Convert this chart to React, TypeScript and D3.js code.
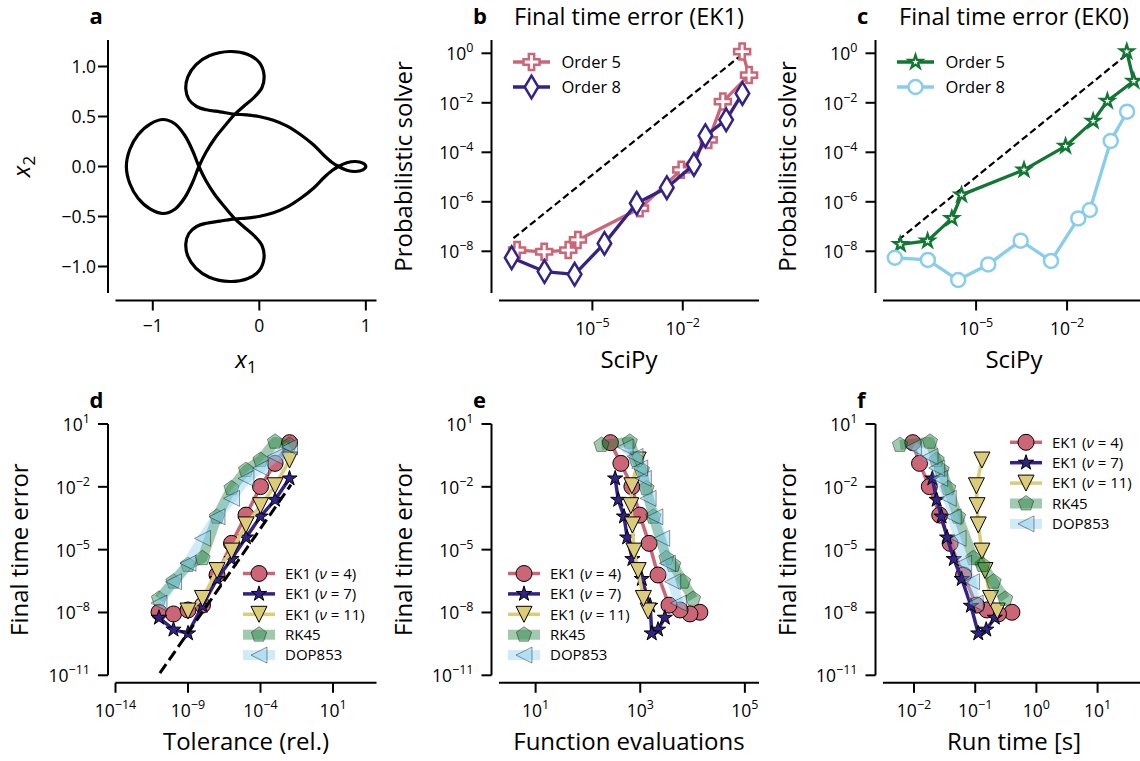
import React, { useEffect, useRef } from "react";
import * as d3 from "d3";

const FONT = "'Open Sans', 'Noto Sans', 'DejaVu Sans', sans-serif";

const ROSE = "#CC6677";
const INDIGO = "#332288";
const SAND = "#DDCC77";
const GREEN = "#117733";
const CYAN = "#88CCEE";

// ---------- Panel a: trajectory (x1, x2) ----------
const orbit: [number, number][] = [
  [-0.229, 0.523], [-0.370, 0.547], [-0.495, 0.567], [-0.589, 0.600], [-0.661, 0.670],
  [-0.690, 0.773], [-0.671, 0.897], [-0.596, 1.017], [-0.470, 1.107], [-0.276, 1.150],
  [-0.113, 1.123], [0.000, 1.040], [0.044, 0.917], [0.025, 0.790], [-0.050, 0.690],
  [-0.141, 0.607], [-0.229, 0.523], [-0.323, 0.407], [-0.417, 0.283], [-0.502, 0.140],
  [-0.567, 0.000], [-0.627, -0.160], [-0.699, -0.310], [-0.793, -0.427], [-0.903, -0.470],
  [-1.022, -0.427], [-1.138, -0.317], [-1.216, -0.170], [-1.248, 0.000], [-1.216, 0.170],
  [-1.138, 0.317], [-1.022, 0.427], [-0.903, 0.470], [-0.793, 0.427], [-0.699, 0.310],
  [-0.627, 0.160], [-0.567, 0.000], [-0.502, -0.140], [-0.417, -0.283], [-0.323, -0.407],
  [-0.229, -0.523], [-0.141, -0.607], [-0.050, -0.690], [0.025, -0.790], [0.044, -0.917],
  [0.000, -1.040], [-0.113, -1.123], [-0.276, -1.150], [-0.470, -1.107], [-0.596, -1.017],
  [-0.671, -0.897], [-0.690, -0.773], [-0.661, -0.670], [-0.589, -0.600], [-0.495, -0.567],
  [-0.370, -0.547], [-0.229, -0.523], [-0.119, -0.517], [0.006, -0.497], [0.132, -0.463],
  [0.257, -0.407], [0.382, -0.323], [0.508, -0.217], [0.608, -0.110], [0.680, -0.043],
  [0.743, 0.000], [0.821, 0.037], [0.900, 0.050], [0.972, 0.033], [1.000, 0.000],
  [0.972, -0.033], [0.900, -0.050], [0.821, -0.037], [0.743, 0.000], [0.680, 0.043],
  [0.608, 0.110], [0.508, 0.217], [0.382, 0.323], [0.257, 0.407], [0.132, 0.463],
  [0.006, 0.497], [-0.119, 0.517],
];
const aXTicks = [-1, 0, 1];
const aYTicks = [1.0, 0.5, 0.0, -0.5, -1.0];

// ---------- Panels b, c (all values are log10) ----------
const scipyOrder5 = [-7.5, -6.6, -5.8, -5.48, -3.42, -2.05, -1.14, -0.67, 0.2, -0.03];
const scipyOrder8 = [-7.68, -6.59, -5.59, -4.6, -3.53, -2.53, -1.63, -1.25, -0.56, -0.02];
const ek1Order5 = [-7.95, -8.02, -7.95, -7.54, -6.26, -4.71, -3.5, -1.95, -0.88, 0.07];
const ek1Order8 = [-8.26, -8.82, -8.93, -7.68, -6.06, -5.43, -4.49, -3.33, -2.69, -1.62];
const ek0Order5 = [-7.72, -7.58, -6.67, -5.72, -4.71, -3.75, -2.74, -1.93, -1.12, 0.07];
const ek0Order8 = [-8.26, -8.35, -9.16, -8.53, -7.57, -8.39, -6.67, -6.33, -3.54, -2.36];
const refEK1X = [-7.62, -0.03];
const refEK1Y = [-7.47, -0.05];
const refEK0X = [-7.56, -0.03];
const refEK0Y = [-7.54, -0.05];
const topYTicks = [0, -2, -4, -6, -8];
const topXTicks = [-5, -2];

// ---------- Panels d, e, f (all values are log10) ----------
const tolExp = [-11, -10, -9, -8, -7, -6, -5, -4, -3, -2];
const tolExpNu11 = [-9, -8, -7, -6, -5, -4, -3, -2];
const errNu4 = [-7.99, -8.07, -7.88, -7.65, -6.21, -4.7, -3.35, -1.99, -0.88, 0.11];
const nfevNu4 = [4.14, 3.95, 3.76, 3.55, 3.34, 3.17, 2.99, 2.84, 2.63, 2.43];
const timeNu4 = [-0.4, -0.62, -0.81, -0.98, -1.19, -1.41, -1.58, -1.75, -1.91, -2.02];
const errNu7 = [-8.25, -8.82, -9.0, -7.68, -6.4, -5.45, -4.42, -3.42, -2.62, -1.6];
const nfevNu7 = [3.47, 3.34, 3.22, 3.19, 3.03, 2.85, 2.75, 2.69, 2.58, 2.52];
const timeNu7 = [-0.68, -0.82, -0.95, -1.07, -1.22, -1.35, -1.46, -1.55, -1.63, -1.7];
const errNu11 = [-7.93, -7.33, -6.0, -5.07, -3.82, -2.9, -1.95, -0.72];
const nfevNu11 = [3.15, 3.06, 2.96, 2.88, 2.85, 2.82, 2.84, 2.96];
const timeNu11 = [-0.64, -0.75, -0.84, -0.89, -0.95, -0.97, -0.98, -0.89];
const errRK45 = [-7.35, -6.53, -5.73, -5.41, -3.43, -2.07, -1.2, -0.72, 0.15, 0.0];
const nfevRK45 = [4.01, 3.82, 3.63, 3.5, 3.25, 3.12, 3.03, 2.93, 2.8, 2.26];
const timeRK45 = [-0.51, -0.7, -0.88, -1.03, -1.28, -1.44, -1.55, -1.63, -1.74, -2.23];
const errDOP853 = [-7.55, -6.53, -5.65, -4.46, -3.43, -2.55, -1.6, -1.1, -0.55, -0.1];
const nfevDOP853 = [3.73, 3.62, 3.52, 3.41, 3.28, 3.15, 3.06, 2.99, 2.9, 2.71];
const timeDOP853 = [-1.0, -1.06, -1.19, -1.28, -1.36, -1.44, -1.58, -1.63, -1.74, -2.01];
const refTolX = [-10.94, -1.9];
const refTolY = [-10.9, -1.9];
const bottomYTicks = [1, -2, -5, -8, -11];
const dXTicks = [-14, -9, -4, 1];
const eXTicks = [1, 3, 5];
const fXTicks = [-2, -1, 0, 1];

// ---------- layout ----------
const COLS: [number, number][] = [[115.5, 376.5], [499, 759], [883, 1145]];
const ROWS: [number, number][] = [[40, 293], [424, 675.3]];
const OFF = 7.5;
const TICK = 10;

type Sel = d3.Selection<any, any, any, any>;

function markerPath(type: string, s: number): string {
  const h = s / 2;
  switch (type) {
    case "circle":
      return d3.symbol(d3.symbolCircle, Math.PI * h * h)() as string;
    case "star":
      return d3.symbol(d3.symbolStar, (h * h) / 0.8908130915292852)() as string;
    case "triDown":
      return `M${-h},${-h}L${h},${-h}L0,${h}Z`;
    case "triLeft":
      return `M${-h},0L${h},${-h}L${h},${h}Z`;
    case "pentagon": {
      const pts = d3.range(5).map((k) => {
        const a = -Math.PI / 2 + (k * 2 * Math.PI) / 5;
        return [h * Math.cos(a), h * Math.sin(a)];
      });
      return "M" + pts.map((p) => p.join(",")).join("L") + "Z";
    }
    case "plus": {
      const a = h / 3;
      const v = [
        [-a, -h], [a, -h], [a, -a], [h, -a], [h, a], [a, a],
        [a, h], [-a, h], [-a, a], [-h, a], [-h, -a], [-a, -a],
      ];
      return "M" + v.map((p) => p.join(",")).join("L") + "Z";
    }
    case "thinDiamond": {
      const H = h * 1.414;
      const W = H * 0.6;
      return `M0,${-H}L${W},0L0,${H}L${-W},0Z`;
    }
  }
  return "";
}

interface Style {
  color: string;
  lw: number;
  lineOpacity: number;
  marker: string;
  msize: number;
  mfill: string;
  mfillOpacity: number;
  mstroke: string;
  mstrokeOpacity: number;
  mstrokeWidth: number;
}

function drawSeries(g: Sel, pts: [number, number][], st: Style) {
  g.append("path")
    .attr("d", d3.line()(pts) as string)
    .attr("fill", "none")
    .attr("stroke", st.color)
    .attr("stroke-width", st.lw)
    .attr("stroke-opacity", st.lineOpacity)
    .attr("stroke-linejoin", "round")
    .attr("stroke-linecap", "butt");
  const mp = markerPath(st.marker, st.msize);
  g.selectAll(null)
    .data(pts)
    .join("path")
    .attr("transform", (d: [number, number]) => `translate(${d[0]},${d[1]})`)
    .attr("d", mp)
    .attr("fill", st.mfill)
    .attr("fill-opacity", st.mfillOpacity)
    .attr("stroke", st.mstroke)
    .attr("stroke-opacity", st.mstrokeOpacity)
    .attr("stroke-width", st.mstrokeWidth)
    .attr("stroke-linejoin", "miter");
}

function legendEntry(g: Sel, x0: number, x1: number, y: number, st: Style) {
  g.append("line")
    .attr("x1", x0).attr("x2", x1).attr("y1", y).attr("y2", y)
    .attr("stroke", st.color)
    .attr("stroke-width", st.lw)
    .attr("stroke-opacity", st.lineOpacity);
  g.append("path")
    .attr("transform", `translate(${(x0 + x1) / 2},${y})`)
    .attr("d", markerPath(st.marker, st.msize))
    .attr("fill", st.mfill)
    .attr("fill-opacity", st.mfillOpacity)
    .attr("stroke", st.mstroke)
    .attr("stroke-opacity", st.mstrokeOpacity)
    .attr("stroke-width", st.mstrokeWidth);
}

function sciText(t: Sel, e: number) {
  t.append("tspan").text("10");
  t.append("tspan")
    .attr("dy", -8)
    .attr("font-size", 12.5)
    .text(e < 0 ? "\u2212" + Math.abs(e) : String(e));
}

function frame(g: Sel, col: number, row: number) {
  const [x0, x1] = COLS[col];
  const [y0, y1] = ROWS[row];
  g.append("line")
    .attr("x1", x0 - OFF).attr("x2", x0 - OFF).attr("y1", y0).attr("y2", y1)
    .attr("stroke", "#000").attr("stroke-width", 2);
  g.append("line")
    .attr("x1", x0).attr("x2", x1).attr("y1", y1 + OFF).attr("y2", y1 + OFF)
    .attr("stroke", "#000").attr("stroke-width", 2);
}

function xTicks(g: Sel, col: number, row: number, xs: number[], scale: (v: number) => number, sci: boolean) {
  const y1 = ROWS[row][1] + OFF;
  xs.forEach((v) => {
    const x = scale(sci ? Math.pow(10, v) : v);
    g.append("line").attr("x1", x).attr("x2", x).attr("y1", y1).attr("y2", y1 + TICK)
      .attr("stroke", "#000").attr("stroke-width", 2);
    const t = g.append("text").attr("x", x).attr("y", y1 + (sci ? 34 : 31))
      .attr("text-anchor", "middle").attr("font-size", 17.5);
    if (sci) sciText(t, v);
    else t.text(v < 0 ? "\u2212" + Math.abs(v) : String(v));
  });
}

function yTicks(g: Sel, col: number, ys: number[], scale: (v: number) => number, sci: boolean, fmt?: (v: number) => string) {
  const x = COLS[col][0] - OFF;
  ys.forEach((v) => {
    const y = scale(sci ? Math.pow(10, v) : v);
    g.append("line").attr("x1", x - TICK).attr("x2", x).attr("y1", y).attr("y2", y)
      .attr("stroke", "#000").attr("stroke-width", 2);
    const t = g.append("text").attr("x", x - (sci ? 18 : 12)).attr("y", y + (sci ? 7 : 6.3))
      .attr("text-anchor", "end").attr("font-size", 17.5);
    if (sci) sciText(t, v);
    else t.text(fmt ? fmt(v) : String(v));
  });
}

function yLabel(g: Sel, col: number, row: number, text: string, dx = 80) {
  const x = COLS[col][0] - OFF - dx;
  const cy = (ROWS[row][0] + ROWS[row][1]) / 2;
  return g.append("text")
    .attr("transform", `translate(${x},${cy}) rotate(-90)`)
    .attr("text-anchor", "middle").attr("font-size", 24).text(text);
}

function xLabel(g: Sel, col: number, row: number, text: string) {
  const cx = (COLS[col][0] + COLS[col][1]) / 2;
  return g.append("text").attr("x", cx).attr("y", ROWS[row][1] + 74.5)
    .attr("text-anchor", "middle").attr("font-size", 24).text(text);
}

function panelLetter(g: Sel, col: number, row: number, letter: string) {
  g.append("text").attr("x", COLS[col][0] - 26).attr("y", row === 0 ? 24 : 408)
    .attr("font-size", 22).attr("font-weight", "bold").text(letter);
}

function draw(svg: Sel) {
  const g = svg.append("g").attr("font-family", FONT).attr("fill", "#000");

  // ----- Panel a -----
  {
    const xs = d3.scaleLinear().domain([-1.35, 1.1]).range(COLS[0]);
    const ys = d3.scaleLinear().domain([-1.265, 1.265]).range([ROWS[0][1], ROWS[0][0]]);
    frame(g, 0, 0);
    xTicks(g, 0, 0, aXTicks, xs, false);
    yTicks(g, 0, aYTicks, ys, false, (v) => (v < 0 ? "\u2212" : "") + Math.abs(v).toFixed(1));
    const line = d3.line<[number, number]>()
      .x((d) => xs(d[0])).y((d) => ys(d[1]))
      .curve(d3.curveCatmullRomClosed.alpha(0.5));
    g.append("path").attr("d", line(orbit) as string)
      .attr("fill", "none").attr("stroke", "#000").attr("stroke-width", 3.2)
      .attr("stroke-linejoin", "round");
    const xl = g.append("text").attr("x", (COLS[0][0] + COLS[0][1]) / 2).attr("y", ROWS[0][1] + 74.5)
      .attr("text-anchor", "middle").attr("font-size", 24);
    xl.append("tspan").attr("font-style", "italic").text("x");
    xl.append("tspan").attr("dy", 5).attr("font-size", 17).text("1");
    const yl = g.append("text")
      .attr("transform", `translate(${COLS[0][0] - OFF - 78},${(ROWS[0][0] + ROWS[0][1]) / 2}) rotate(-90)`)
      .attr("text-anchor", "middle").attr("font-size", 24);
    yl.append("tspan").attr("font-style", "italic").text("x");
    yl.append("tspan").attr("dy", 5).attr("font-size", 17).text("2");
    panelLetter(g, 0, 0, "a");
  }

  // ----- Panels b, c -----
  const topPanels = [
    {
      col: 1, letter: "b", title: "Final time error (EK1)",
      s5: ek1Order5, s8: ek1Order8, refX: refEK1X, refY: refEK1Y, dom: [-8.1, 0.53],
      st5: { color: ROSE, lw: 3.3, lineOpacity: 1, marker: "plus", msize: 16, mfill: "#fff", mfillOpacity: 1, mstroke: ROSE, mstrokeOpacity: 1, mstrokeWidth: 2.5 },
      st8: { color: INDIGO, lw: 3.3, lineOpacity: 1, marker: "thinDiamond", msize: 16, mfill: "#fff", mfillOpacity: 1, mstroke: INDIGO, mstrokeOpacity: 1, mstrokeWidth: 2.5 },
    },
    {
      col: 2, letter: "c", title: "Final time error (EK0)",
      s5: ek0Order5, s8: ek0Order8, refX: refEK0X, refY: refEK0Y, dom: [-8.07, 0.57],
      st5: { color: GREEN, lw: 3.3, lineOpacity: 1, marker: "star", msize: 14, mfill: "#fff", mfillOpacity: 1, mstroke: GREEN, mstrokeOpacity: 1, mstrokeWidth: 2.3 },
      st8: { color: CYAN, lw: 3.3, lineOpacity: 1, marker: "circle", msize: 14, mfill: "#fff", mfillOpacity: 1, mstroke: CYAN, mstrokeOpacity: 1, mstrokeWidth: 2.5 },
    },
  ];
  topPanels.forEach((p) => {
    const xs = d3.scaleLog().domain([Math.pow(10, p.dom[0]), Math.pow(10, p.dom[1])]).range(COLS[p.col]);
    const ys = d3.scaleLog().domain([Math.pow(10, -9.685), Math.pow(10, 0.537)]).range([ROWS[0][1], ROWS[0][0]]);
    frame(g, p.col, 0);
    xTicks(g, p.col, 0, topXTicks, xs, true);
    yTicks(g, p.col, topYTicks, ys, true);
    const P = (lx: number[], ly: number[]) =>
      lx.map((v, i) => [xs(Math.pow(10, v)), ys(Math.pow(10, ly[i]))] as [number, number]);
    g.append("path").attr("d", d3.line()(P(p.refX, p.refY)) as string)
      .attr("stroke", "#000").attr("stroke-width", 2.2).attr("fill", "none")
      .attr("stroke-dasharray", "7,3.6");
    drawSeries(g, P(scipyOrder5, p.s5), p.st5);
    drawSeries(g, P(scipyOrder8, p.s8), p.st8);
    const lx0 = COLS[p.col][0] + 14;
    legendEntry(g, lx0, lx0 + 37, ROWS[0][0] + 22, p.st5);
    legendEntry(g, lx0, lx0 + 37, ROWS[0][0] + 47, p.st8);
    g.append("text").attr("x", lx0 + 48.5).attr("y", ROWS[0][0] + 28).attr("font-size", 16.5).text("Order 5");
    g.append("text").attr("x", lx0 + 48.5).attr("y", ROWS[0][0] + 53).attr("font-size", 16.5).text("Order 8");
    xLabel(g, p.col, 0, "SciPy");
    yLabel(g, p.col, 0, "Probabilistic solver");
    panelLetter(g, p.col, 0, p.letter);
    g.append("text").attr("x", (COLS[p.col][0] + COLS[p.col][1]) / 2).attr("y", 25)
      .attr("text-anchor", "middle").attr("font-size", 23.5).text(p.title);
  });

  // ----- Panels d, e, f -----
  const ekStyle = (color: string, marker: string): Style => ({
    color, lw: 3.5, lineOpacity: 1, marker, msize: 16, mfill: color, mfillOpacity: 1,
    mstroke: "#000", mstrokeOpacity: 1, mstrokeWidth: 1,
  });
  const rkStyle = (color: string, marker: string): Style => ({
    color, lw: 10, lineOpacity: 0.4, marker, msize: 16, mfill: color, mfillOpacity: 0.4,
    mstroke: "#000", mstrokeOpacity: 0.4, mstrokeWidth: 1,
  });
  const series = [
    { label: "4", st: ekStyle(ROSE, "circle"), tol: tolExp, err: errNu4, nfev: nfevNu4, time: timeNu4 },
    { label: "7", st: ekStyle(INDIGO, "star"), tol: tolExp, err: errNu7, nfev: nfevNu7, time: timeNu7 },
    { label: "11", st: ekStyle(SAND, "triDown"), tol: tolExpNu11, err: errNu11, nfev: nfevNu11, time: timeNu11 },
    { label: "RK45", st: rkStyle(GREEN, "pentagon"), tol: tolExp, err: errRK45, nfev: nfevRK45, time: timeRK45 },
    { label: "DOP853", st: rkStyle(CYAN, "triLeft"), tol: tolExp, err: errDOP853, nfev: nfevDOP853, time: timeDOP853 },
  ];
  const bottomPanels = [
    { col: 0, letter: "d", key: "tol", dom: [-14, 4], ticks: dXTicks, xlabel: "Tolerance (rel.)", legX: 243, legY: 573.5 },
    { col: 1, letter: "e", key: "nfev", dom: [0.3, 5.27], ticks: eXTicks, xlabel: "Function evaluations", legX: 508, legY: 573.5 },
    { col: 2, letter: "f", key: "time", dom: [-2.507, 1.775], ticks: fXTicks, xlabel: "Run time [s]", legX: 1010, legY: 442.3 },
  ];
  bottomPanels.forEach((p) => {
    const xs = d3.scaleLog().domain([Math.pow(10, p.dom[0]), Math.pow(10, p.dom[1])]).range(COLS[p.col]);
    const ys = d3.scaleLog().domain([1e-11, 1e1]).range([ROWS[1][1], ROWS[1][0]]);
    frame(g, p.col, 1);
    xTicks(g, p.col, 1, p.ticks, xs, true);
    yTicks(g, p.col, bottomYTicks, ys, true);
    const P = (lx: number[], ly: number[]) =>
      lx.map((v, i) => [xs(Math.pow(10, v)), ys(Math.pow(10, ly[i]))] as [number, number]);
    series.forEach((s, i) => {
      const xv = (s as any)[p.key] as number[];
      drawSeries(g, P(xv, s.err), s.st);
      if (i === 2 && p.key === "tol") {
        g.append("path").attr("d", d3.line()(P(refTolX, refTolY)) as string)
          .attr("stroke", "#000").attr("stroke-width", 3).attr("fill", "none")
          .attr("stroke-dasharray", "11,5");
      }
    });
    // legend
    series.forEach((s, i) => {
      const y = p.legY + i * 20.4;
      legendEntry(g, p.legX, p.legX + 32, y, s.st);
      const t = g.append("text").attr("x", p.legX + 42).attr("y", y + 5.3).attr("font-size", 15);
      if (i < 3) {
        t.append("tspan").text("EK1 (");
        t.append("tspan").attr("font-style", "italic").text("\u03bd");
        t.append("tspan").text(" = " + s.label + ")");
      } else t.text(s.label);
    });
    xLabel(g, p.col, 1, p.xlabel);
    yLabel(g, p.col, 1, "Final time error");
    panelLetter(g, p.col, 1, p.letter);
  });
}

export default function App() {
  const ref = useRef<SVGSVGElement>(null);
  useEffect(() => {
    if (!ref.current) return;
    const svg = d3.select(ref.current);
    svg.selectAll("*").remove();
    draw(svg);
  }, []);
  return (
    <svg
      ref={ref}
      width={1140}
      height={761}
      style={{ position: "absolute", left: 0, top: 0, background: "#fff" }}
    />
  );
}
